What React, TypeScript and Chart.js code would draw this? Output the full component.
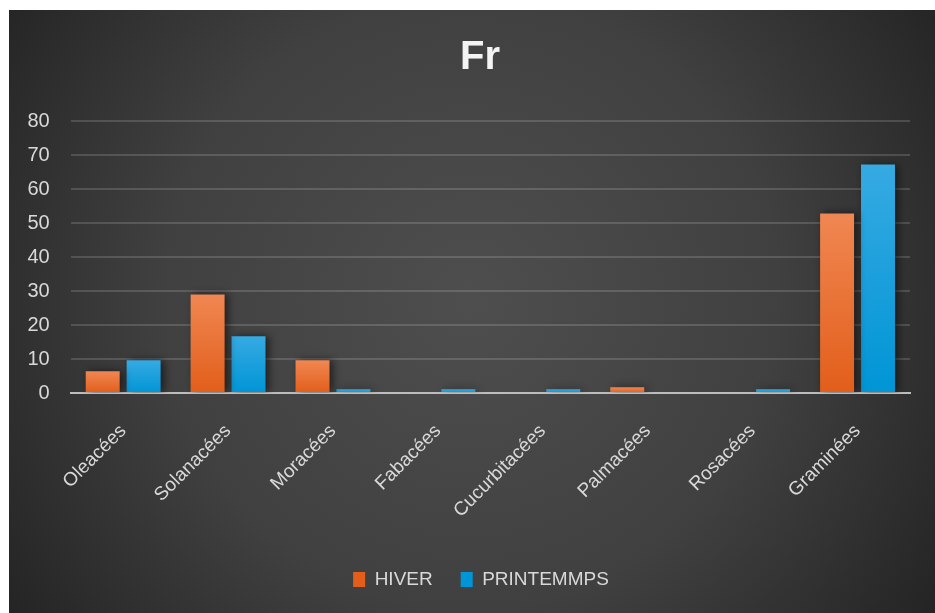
import { useEffect, useRef } from "react";
import { Chart, registerables } from "chart.js";

Chart.register(...registerables);

const titleText = "Fr";
const categories = [
  "Oleacées",
  "Solanacées",
  "Moracées",
  "Fabacées",
  "Cucurbitacées",
  "Palmacées",
  "Rosacées",
  "Graminées",
];
const seriesNames = ["HIVER", "PRINTEMMPS"];
const hiver = [6.4, 29.0, 9.6, 0, 0, 1.7, 0, 52.8];
const printemps = [9.6, 16.7, 1.1, 1.1, 1.1, 0, 1.1, 67.2];
const yMin = 0;
const yMax = 80;
const yStep = 10;

const FONT = "'Liberation Sans', Arial, sans-serif";

const bgPlugin = {
  id: "bgPlugin",
  beforeDraw(chart: any) {
    const { ctx, width, height } = chart;
    ctx.save();
    ctx.fillStyle = "#ffffff";
    ctx.fillRect(0, 0, width, height);
    const g = ctx.createRadialGradient(470, 300, 0, 470, 300, 560);
    g.addColorStop(0, "#4e4e4e");
    g.addColorStop(0.55, "#404040");
    g.addColorStop(1, "#242424");
    ctx.fillStyle = g;
    ctx.fillRect(9, 10, width - 9, height - 10);
    ctx.restore();
  },
};

// centre the title and the legend on the same line as in the reference
const centerPlugin = {
  id: "centerPlugin",
  afterLayout(chart: any) {
    if (chart.titleBlock) chart.titleBlock.left += 24;
    if (chart.legend) chart.legend.left += 26;
  },
};

const shadowPlugin = {
  id: "shadowPlugin",
  beforeDatasetsDraw(chart: any) {
    const c = chart.ctx;
    c.save();
    c.shadowColor = "rgba(0,0,0,0.55)";
    c.shadowBlur = 8;
    c.shadowOffsetX = 3;
    c.shadowOffsetY = 0;
  },
  afterDatasetsDraw(chart: any) {
    chart.ctx.restore();
  },
};

function barFill(top: string, bottom: string, solid: string) {
  return (c: any) => {
    if (c.type !== "data" || !c.chart.scales || !c.chart.scales.y) return solid;
    const y = c.chart.scales.y;
    const v = c.parsed ? c.parsed.y : c.raw;
    const pTop = y.getPixelForValue(v);
    const pBot = y.getPixelForValue(0);
    if (!isFinite(pTop) || !isFinite(pBot) || Math.abs(pBot - pTop) < 1) return solid;
    const g = c.chart.ctx.createLinearGradient(0, pTop, 0, pBot);
    g.addColorStop(0, top);
    g.addColorStop(1, bottom);
    return g;
  };
}

export default function App() {
  const ref = useRef<HTMLCanvasElement | null>(null);

  useEffect(() => {
    if (!ref.current) return;
    const chart = new Chart(ref.current, {
      type: "bar",
      data: {
        labels: categories,
        datasets: [
          {
            label: seriesNames[0],
            data: hiver,
            backgroundColor: barFill("#f08752", "#e25e1a", "#ee7330"),
            borderWidth: 0,
            barPercentage: 0.83,
            categoryPercentage: 0.78,
          },
          {
            label: seriesNames[1],
            data: printemps,
            backgroundColor: barFill("#36aae2", "#0095d6", "#1fa3e0"),
            borderWidth: 0,
            barPercentage: 0.83,
            categoryPercentage: 0.78,
          },
        ],
      },
      options: {
        responsive: false,
        animation: false,
        devicePixelRatio: 1,
        layout: { padding: { left: 26, right: 25, top: 10, bottom: 14 } },
        plugins: {
          title: {
            display: true,
            text: titleText,
            color: "#f4f4f4",
            font: { family: FONT, size: 40, weight: "bold" },
            padding: { top: 24, bottom: 39 },
          },
          legend: {
            position: "bottom",
            labels: {
              color: "#d9d9d9",
              font: { family: FONT, size: 19 },
              boxWidth: 12,
              boxHeight: 15,
              padding: 28,
            },
          },
          tooltip: { enabled: false },
        },
        scales: {
          x: {
            grid: { display: false, drawTicks: false },
            border: { display: true, color: "#bdbdbd", width: 2 },
            ticks: {
              color: "#d9d9d9",
              font: { family: FONT, size: 19 },
              minRotation: 45,
              maxRotation: 45,
              autoSkip: false,
              padding: 27,
            },
            afterFit: (s: any) => {
              s.height = 149;
            },
          },
          y: {
            min: yMin,
            max: yMax,
            grid: { color: "rgba(255,255,255,0.15)", lineWidth: 2, drawTicks: false },
            border: { display: false },
            ticks: {
              stepSize: yStep,
              color: "#d9d9d9",
              font: { family: FONT, size: 20 },
              padding: 21,
            },
            afterFit: (s: any) => {
              s.width = 44.7;
            },
          },
        },
      },
      plugins: [bgPlugin, centerPlugin, shadowPlugin],
    });
    return () => chart.destroy();
  }, []);

  return (
    <div style={{ position: "fixed", left: 0, top: 0, width: 935, height: 613 }}>
      <canvas ref={ref} width={935} height={613} />
    </div>
  );
}
